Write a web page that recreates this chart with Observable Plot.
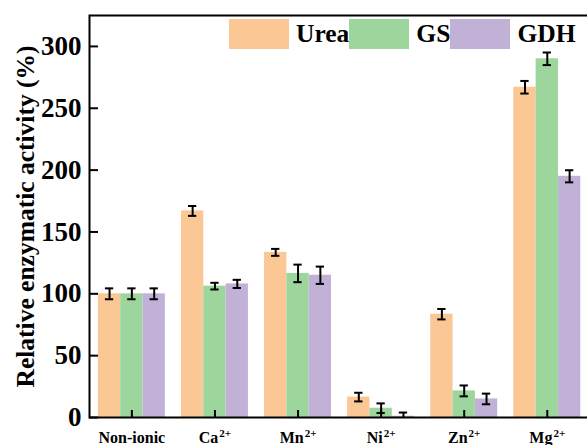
<!DOCTYPE html>
<html><head><meta charset="utf-8">
<script src="https://cdn.jsdelivr.net/npm/d3@7"></script>
<script src="https://cdn.jsdelivr.net/npm/@observablehq/plot@0.6"></script>
<style>
html,body{margin:0;padding:0;background:#fff;overflow:hidden;width:587px;height:445px;}
#wrap{position:relative;width:600px;height:445px;}
#legend{position:absolute;left:229px;top:19px;display:flex;align-items:center;font-family:"Liberation Serif","Times New Roman",serif;font-weight:bold;font-size:25.5px;line-height:30px;color:#000;}
.sw{width:60px;height:30px;}
.lb{margin-left:7px;}
</style></head><body><div id="wrap"><div id="legend"></div></div>
<script>
const categories = ["Non-ionic","Ca","Mn","Ni","Zn","Mg"];
const charges = ["","2+","2+","2+","2+","2+"];
const series = ["Urea","GS","GDH"];
const colors = ["#FBC795","#9DD69D","#C2B1D7"];
const urea = [100,167,133.5,16.5,83.5,267];
const ureaErr = [4.4,4,2.8,3.5,4.2,5.1];
const gs = [100,106.2,116.5,7.5,21.5,290];
const gsErr = [4.4,2.7,7.1,3.9,4.4,5.1];
const gdh = [100,108,115,1,15,195];
const gdhErr = [4.4,3.3,7,3,4.3,4.9];
const yTicks = [0,50,100,150,200,250,300];
const yLabel = "Relative enzymatic activity (%)";

const font = '"Liberation Serif","Times New Roman",serif';
const values = [urea, gs, gdh];
const errs = [ureaErr, gsErr, gdhErr];
const bw = 0.806 / 3;
const cap = 0.05;
const rows = [];
categories.forEach((c, i) => series.forEach((s, j) => {
  rows.push({cat: i, series: s, value: values[j][i], err: errs[j][i], xc: i + (j - 1) * bw});
}));
const catIdx = categories.map((c, i) => i);

const chart = Plot.plot({
  width: 600, height: 445,
  marginLeft: 89, marginRight: 10, marginTop: 15, marginBottom: 28,
  style: {fontFamily: font, fontWeight: "bold", background: "white", color: "black"},
  x: {type: "linear", domain: [-0.51, 5.52]},
  y: {domain: [0, 325]},
  color: {domain: series, range: colors},
  marks: [
    Plot.rectY(rows, {x1: d => d.xc - bw / 2, x2: d => d.xc + bw / 2, y1: 0, y2: "value", fill: "series"}),
    Plot.ruleX(rows, {x: "xc", y1: d => d.value - d.err, y2: d => d.value + d.err, stroke: "black", strokeWidth: 2, clip: true}),
    Plot.ruleY(rows, {y: d => d.value + d.err, x1: d => d.xc - cap, x2: d => d.xc + cap, stroke: "black", strokeWidth: 2, clip: true}),
    Plot.ruleY(rows, {y: d => d.value - d.err, x1: d => d.xc - cap, x2: d => d.xc + cap, stroke: "black", strokeWidth: 2, clip: true}),
    Plot.frame({stroke: "black", strokeWidth: 2}),
    Plot.axisY({ticks: yTicks, tickSize: -9, tickFormat: () => "", strokeWidth: 2, label: null}),
    Plot.axisY({ticks: yTicks, tickSize: 0, tickPadding: 8, fontSize: 27, label: null, ariaLabel: "ylabels"}),
    Plot.axisX({ticks: catIdx, tickSize: -7, tickFormat: () => "", strokeWidth: 2, label: null}),
    Plot.axisX({ticks: catIdx, tickSize: 0, tickPadding: 14, fontSize: 16, label: null, tickFormat: i => categories[i] + (charges[i] ? "^" + charges[i] : "")}),
    Plot.text([yLabel], {frameAnchor: "left", textAnchor: "middle", rotate: -90, dx: -64, fontSize: 25.5, text: d => d})
  ]
});
document.getElementById("wrap").prepend(chart);

// superscript charges in x tick labels
chart.querySelectorAll("text").forEach(t => {
  const s = t.textContent;
  if (s.includes("^")) {
    const [base, sup] = s.split("^");
    t.textContent = "";
    const a = document.createElementNS("http://www.w3.org/2000/svg", "tspan");
    a.textContent = base;
    const b = document.createElementNS("http://www.w3.org/2000/svg", "tspan");
    b.textContent = sup;
    b.setAttribute("font-size", "11");
    b.setAttribute("dy", "-6");
    b.setAttribute("dx", "1");
    t.append(a, b);
  }
});

const legend = document.getElementById("legend");
series.forEach((s, j) => {
  const sw = document.createElement("div");
  sw.className = "sw"; sw.style.background = colors[j];
  const lb = document.createElement("div");
  lb.className = "lb"; lb.textContent = s;
  legend.append(sw, lb);
});
</script></body></html>
